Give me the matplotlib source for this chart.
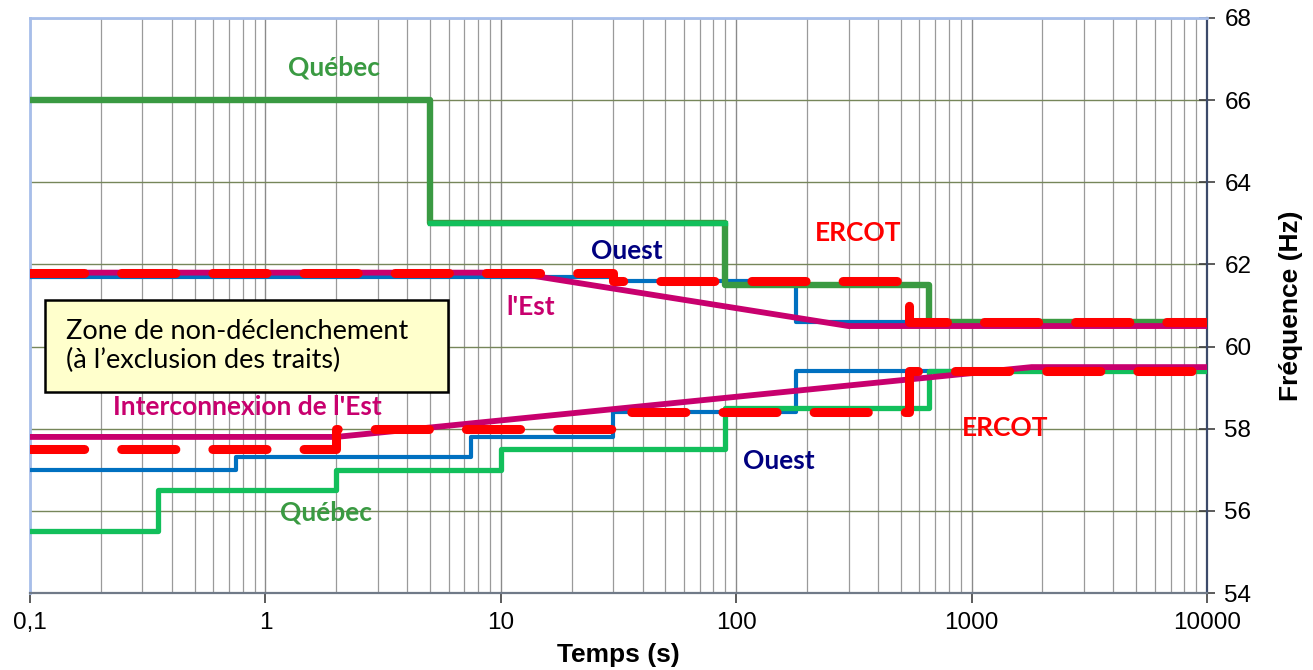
import numpy as np
import matplotlib.pyplot as plt
from matplotlib.patches import Rectangle
from matplotlib.ticker import FixedLocator, FixedFormatter, LogLocator, NullFormatter

# Seuils de fréquence (Hz) en fonction du temps (s)
quebec_hi_t = [0.1, 5, 90, 660, 10000]
quebec_hi_f = [66.0, 63.0, 61.5, 60.6, 60.6]
quebec_mid_t = [5, 90]
quebec_mid_f = [63.0, 63.0]
quebec_lo_t = [0.1, 0.35, 2, 10, 90, 660, 10000]
quebec_lo_f = [55.5, 56.5, 57.0, 57.5, 58.5, 59.4, 59.4]

ouest_hi_t = [0.1, 30, 180, 10000]
ouest_hi_f = [61.7, 61.6, 60.6, 60.6]
ouest_lo_t = [0.1, 0.75, 7.5, 30, 180, 10000]
ouest_lo_f = [57.0, 57.3, 57.8, 58.4, 59.4, 59.4]

ercot_hi_t = [0.1, 30, 540, 10000]
ercot_hi_f = [61.8, 61.6, 60.6, 60.6]
ercot_lo_t = [0.1, 2, 30, 540, 10000]
ercot_lo_f = [57.5, 58.0, 58.4, 59.4, 59.4]

est_hi_t = [0.1, 11.3, 300, 10000]
est_hi_f = [61.8, 61.8, 60.5, 60.5]
est_lo_t = [0.1, 2, 1800, 10000]
est_lo_f = [57.8, 57.8, 59.5, 59.5]

xtick_vals = [0.1, 1, 10, 100, 1000, 10000]
xtick_labels = ['0,1', '1', '10', '100', '1000', '10000']
ytick_vals = [54, 56, 58, 60, 62, 64, 66, 68]

# couleurs
c_qc_dark = '#3A9A42'
c_qc = '#12BF5B'
c_blue = '#0070C0'
c_mag = '#C8006E'
c_red = '#FF0000'
c_navy = '#000080'

plt.rcParams['font.family'] = ['Liberation Sans', 'DejaVu Sans']

fig = plt.figure(figsize=(13.13, 6.70), dpi=100)
ax = fig.add_axes([30 / 1313, 1 - 593 / 670, 1177 / 1313, 575 / 670])
ax.set_xscale('log')
ax.set_xlim(0.1, 10000)
ax.set_ylim(54, 68)

# grille
ax.set_axisbelow(True)
ax.xaxis.set_minor_locator(LogLocator(base=10, subs=np.arange(2, 10)))
ax.xaxis.set_minor_formatter(NullFormatter())
ax.grid(True, which='major', axis='x', color='#8A8A8A', lw=1.0)
ax.grid(True, which='minor', axis='x', color='#9A9A9A', lw=0.9)
ax.grid(True, which='major', axis='y', color='#76865A', lw=1.0)

# courbes
ax.step(ouest_hi_t, ouest_hi_f, where='post', color=c_blue, lw=3.0, zorder=3)
ax.step(ouest_lo_t, ouest_lo_f, where='post', color=c_blue, lw=3.0, zorder=3)
ax.step(quebec_hi_t, quebec_hi_f, where='post', color=c_qc_dark, lw=4.6, zorder=4)
ax.plot(quebec_mid_t, quebec_mid_f, color=c_qc, lw=3.8, zorder=4.1)
ax.step(quebec_lo_t, quebec_lo_f, where='post', color=c_qc, lw=3.8, zorder=4)
ax.plot(est_hi_t, est_hi_f, color=c_mag, lw=4.2, zorder=5)
ax.plot(est_lo_t, est_lo_f, color=c_mag, lw=4.2, zorder=5)
for t, f in [(ercot_hi_t, ercot_hi_f), (ercot_lo_t, ercot_lo_f)]:
    ln, = ax.step(t, f, where='post', color=c_red, lw=6.5, zorder=6,
                  dash_capstyle='round', solid_capstyle='round')
    ln.set_dashes((6, 4.1))

# zone de non-déclenchement
ax.add_patch(Rectangle((15 / 1177, 201 / 575), 403 / 1177, 92 / 575, transform=ax.transAxes,
                       facecolor='#FFFFCC', edgecolor='black', lw=1.8, zorder=7))
ax.text(36 / 1177, 247 / 575, 'Zone de non-déclenchement\n(à l\u2019exclusion des traits)',
        transform=ax.transAxes, ha='left', va='center', fontsize=19.5, family='Lato',
        linespacing=1.15, zorder=8)

# étiquettes
lab = dict(fontsize=19, fontweight='bold', family='Lato', ha='center', va='center', zorder=8)
ax.text(1.95, 66.8, 'Québec', color=c_qc_dark, **lab)
ax.text(34.4, 62.33, 'Ouest', color=c_navy, **lab)
ax.text(329, 62.77, 'ERCOT', color=c_red, **lab)
ax.text(13.4, 60.96, "l'Est", color=c_mag, **lab)
ax.text(0.84, 58.53, "Interconnexion de l'Est", color=c_mag, **lab)
ax.text(151, 57.21, 'Ouest', color=c_navy, **lab)
ax.text(1387, 58.02, 'ERCOT', color=c_red, **lab)
ax.text(1.81, 55.95, 'Québec', color=c_qc_dark, **lab)

# axes
ax.xaxis.set_major_locator(FixedLocator(xtick_vals))
ax.xaxis.set_major_formatter(FixedFormatter(xtick_labels))
ax.tick_params(axis='x', which='major', direction='out', length=7, width=1.2,
               color='#404040', labelsize=17.5, pad=7)
ax.tick_params(axis='x', which='minor', length=0)
ax.yaxis.tick_right()
ax.yaxis.set_label_position('right')
ax.set_yticks(ytick_vals)
ax.tick_params(axis='y', direction='inout', length=11, width=1.2, color='#404040',
               labelsize=17.5, pad=7)

ax.spines['top'].set_color('#A7BEEA')
ax.spines['left'].set_color('#A7BEEA')
ax.spines['top'].set_linewidth(2)
ax.spines['left'].set_linewidth(2)
ax.spines['right'].set_color('#3C4A6A')
ax.spines['right'].set_linewidth(1.6)
ax.spines['bottom'].set_color('#707A88')
ax.spines['bottom'].set_linewidth(1.6)

ax.set_xlabel('Temps (s)', fontsize=19, fontweight='bold', labelpad=6)
ax.set_ylabel('Fréquence (Hz)', fontsize=19, fontweight='bold', labelpad=20)

fig.savefig('out.png', dpi=100)
